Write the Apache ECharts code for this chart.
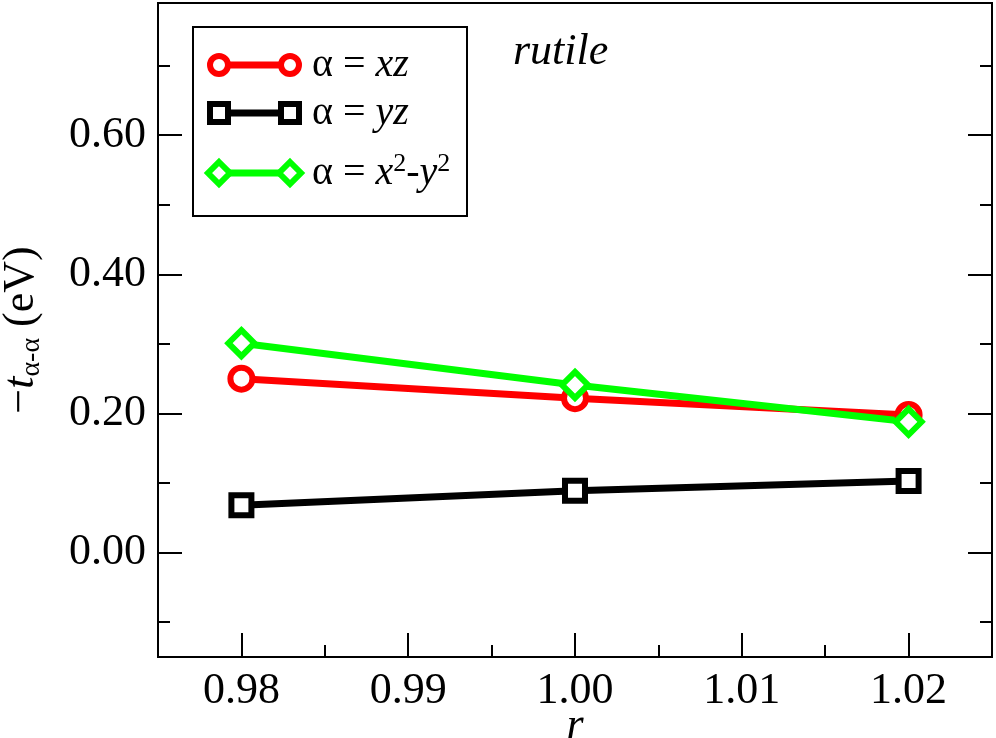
<!DOCTYPE html>
<html>
<head>
<meta charset="utf-8">
<script src="https://cdn.jsdelivr.net/npm/echarts@6/dist/echarts.min.js"></script>
<style>
  html, body { margin: 0; padding: 0; background: #fff; }
  #chart { width: 996px; height: 738px; }
</style>
</head>
<body>
<div id="chart"></div>
<script>
// data
var rValues = [0.98, 1.00, 1.02];
var tXZ = [0.250, 0.222, 0.198];
var tYZ = [0.068, 0.089, 0.103];
var tX2Y2 = [0.301, 0.241, 0.188];

// ticks
var xMajor = [0.98, 0.99, 1.00, 1.01, 1.02];
var xMinor = [0.985, 0.995, 1.005, 1.015];
var yMajor = [0.0, 0.2, 0.4, 0.6];
var yMinor = [-0.1, 0.1, 0.3, 0.5, 0.7];

var FONT = 'Liberation Serif';

function pairs(ys) {
  return rValues.map(function (x, i) { return [x, ys[i]]; });
}

var chart = echarts.init(document.getElementById('chart'));

function xAxisDef(vals, len, labels) {
  return {
    type: 'value', min: 0.975, max: 1.025, position: 'bottom',
    axisLine: { show: true, onZero: false, lineStyle: { color: '#000', width: 2 } },
    axisTick: { show: true, inside: true, length: len, customValues: vals, lineStyle: { color: '#000', width: 2 } },
    axisLabel: labels ? {
      show: true, customValues: vals, margin: 12,
      fontFamily: FONT, fontSize: 44, color: '#000',
      formatter: function (v) { return v.toFixed(2); }
    } : { show: false },
    splitLine: { show: false }
  };
}

function yAxisDef(vals, len, pos, labels) {
  return {
    type: 'value', min: -0.15, max: 0.79, position: pos,
    axisLine: { show: true, onZero: false, lineStyle: { color: '#000', width: 2 } },
    axisTick: { show: true, inside: true, length: len, customValues: vals, lineStyle: { color: '#000', width: 2 } },
    axisLabel: labels ? {
      show: true, customValues: vals, margin: 12,
      fontFamily: FONT, fontSize: 44, color: '#000',
      formatter: function (v) { return v.toFixed(2); }
    } : { show: false },
    splitLine: { show: false }
  };
}

var xMain = xAxisDef(xMajor, 24, true);
xMain.name = 'r';
xMain.nameLocation = 'middle';
xMain.nameGap = 47;
xMain.nameMoveOverlap = false;
xMain.nameTextStyle = { fontFamily: FONT, fontSize: 44, fontStyle: 'italic', color: '#000' };

var yMain = yAxisDef(yMajor, 24, 'left', true);
yMain.name = '{n|−}{i|t}{sub|α-α}{n| (eV)}';
yMain.nameLocation = 'middle';
yMain.nameGap = 112;
yMain.nameMoveOverlap = false;
yMain.nameTextStyle = {
  color: '#000', fontFamily: FONT, fontSize: 44,
  rich: {
    n: { fontFamily: FONT, fontSize: 44, lineHeight: 50, color: '#000' },
    i: { fontFamily: FONT, fontSize: 44, lineHeight: 50, fontStyle: 'italic', color: '#000' },
    sub: { fontFamily: FONT, fontSize: 28, lineHeight: 50, verticalAlign: 'bottom', color: '#000' }
  }
};

var richLegend = {
  n: { fontFamily: FONT, fontSize: 40, lineHeight: 44, color: '#000' },
  i: { fontFamily: FONT, fontSize: 40, lineHeight: 44, fontStyle: 'italic', color: '#000' },
  s: { fontFamily: FONT, fontSize: 26, lineHeight: 44, verticalAlign: 'top', color: '#000' }
};

function legendRow(y, color, shapeMaker, text) {
  var items = [
    { type: 'line', shape: { x1: 219, y1: y, x2: 290, y2: y }, style: { stroke: color, lineWidth: 7 } }
  ];
  items.push(shapeMaker(219, y, color));
  items.push(shapeMaker(290, y, color));
  items.push({
    type: 'text', x: 312, y: y,
    style: { text: text, rich: richLegend, verticalAlign: 'middle', align: 'left', fill: '#000' }
  });
  return items;
}

function circleAt(x, y, c) {
  return { type: 'circle', shape: { cx: x, cy: y, r: 9 }, style: { fill: '#fff', stroke: c, lineWidth: 6 } };
}
function squareAt(x, y, c) {
  return { type: 'rect', shape: { x: x - 9, y: y - 9, width: 18, height: 18 }, style: { fill: '#fff', stroke: c, lineWidth: 6 } };
}
function diamondAt(x, y, c) {
  return { type: 'polygon', shape: { points: [[x, y - 11], [x + 11, y], [x, y + 11], [x - 11, y]] }, style: { fill: '#fff', stroke: c, lineWidth: 6 } };
}

var legendEls = [
  { type: 'rect', shape: { x: 193, y: 27, width: 274, height: 189 }, style: { fill: '#fff', stroke: '#000', lineWidth: 2 } }
]
  .concat(legendRow(65, '#ff0000', circleAt, '{n|α = }{i|xz}'))
  .concat(legendRow(113, '#000000', squareAt, '{n|α = }{i|yz}'))
  .concat(legendRow(173, '#00ff00', diamondAt, '{n|α = }{i|x}{s|2}{n|-}{i|y}{s|2}'));

function lineSeries(name, ys, color, symbol, size) {
  return {
    name: name, type: 'line', data: pairs(ys),
    symbol: symbol, symbolSize: size, showSymbol: true,
    lineStyle: { color: color, width: 7 },
    itemStyle: { color: '#fff', borderColor: color, borderWidth: 6 },
    animation: false, z: 3
  };
}

chart.setOption({
  animation: false,
  backgroundColor: '#fff',
  grid: {
    left: 158, right: 4, top: 3, bottom: 81,
    containLabel: false, outerBoundsMode: 'none',
    show: true, borderColor: '#000', borderWidth: 2, backgroundColor: 'transparent'
  },
  xAxis: [xMain, xAxisDef(xMinor, 12, false)],
  yAxis: [
    yMain,
    yAxisDef(yMinor, 12, 'left', false),
    yAxisDef(yMajor, 24, 'right', false),
    yAxisDef(yMinor, 12, 'right', false)
  ],
  series: [
    lineSeries('α = xz', tXZ, '#ff0000', 'circle', 22),
    lineSeries('α = yz', tYZ, '#000000', 'rect', 20),
    lineSeries('α = x2-y2', tX2Y2, '#00ff00', 'diamond', 26)
  ],
  graphic: [
    {
      type: 'text', left: 513, top: 30,
      style: { text: 'rutile', font: 'italic 44px "Liberation Serif"', fill: '#000' }
    },
    { type: 'group', children: legendEls }
  ]
});
</script>
</body>
</html>
